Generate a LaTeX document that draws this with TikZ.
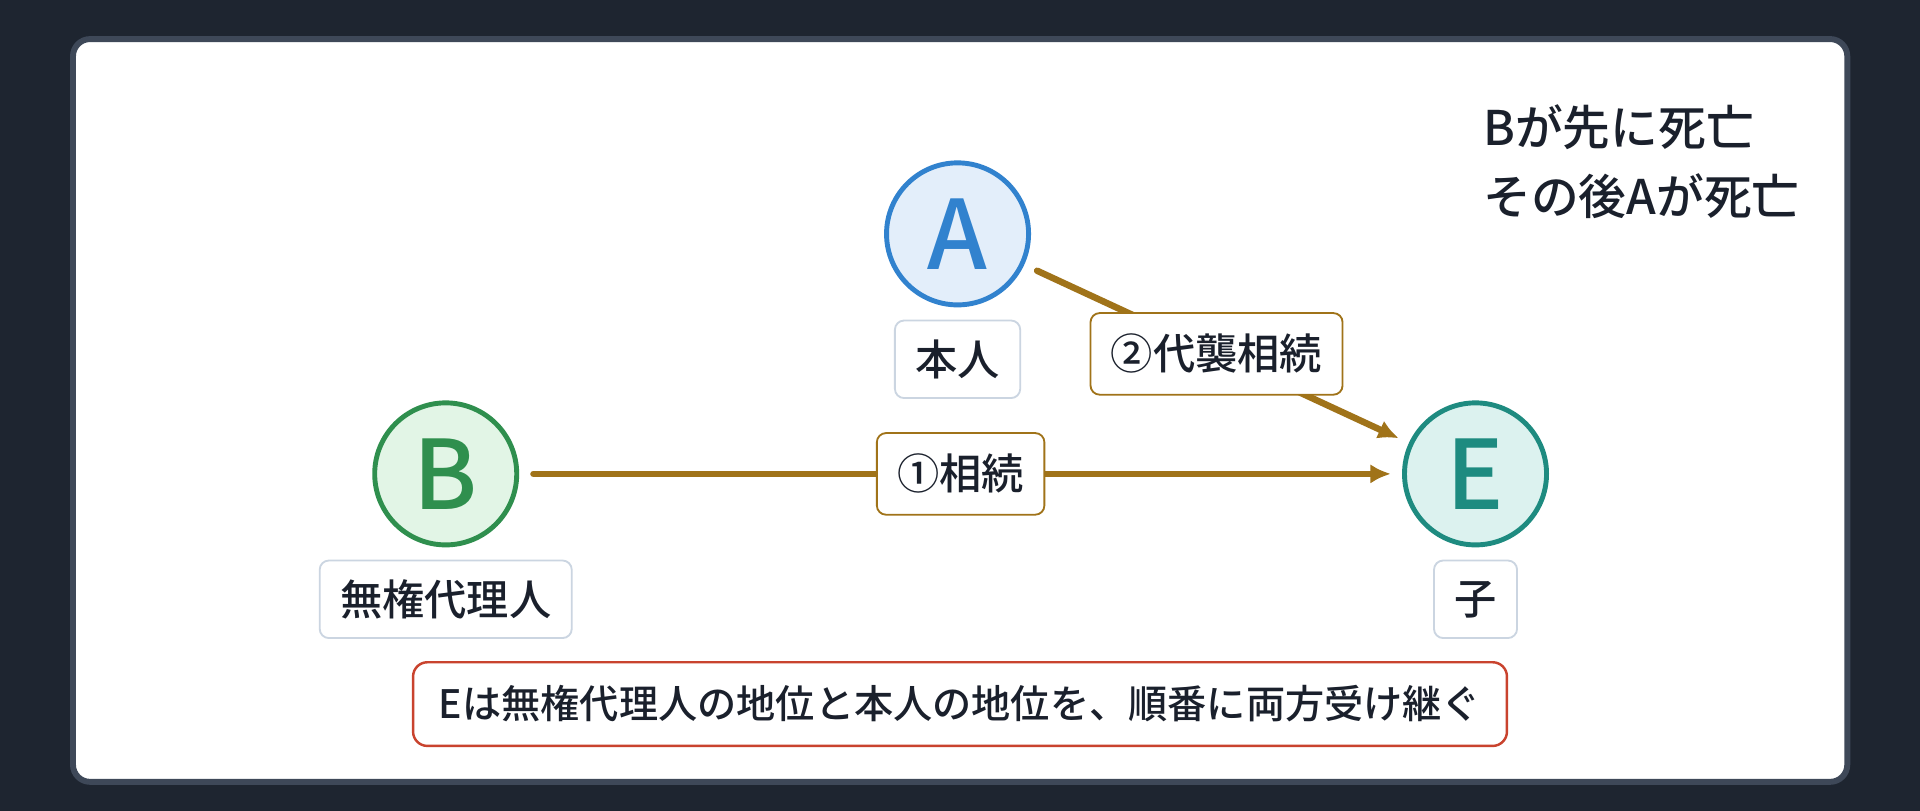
\documentclass[tikz,border=0pt]{standalone}
\usepackage{fontspec}
\setmainfont{Noto Sans CJK JP Medium}
\usetikzlibrary{positioning, calc, arrows.meta}
\tikzset{>={Latex[length=10pt,width=9.5pt]}}

\definecolor{bgdark}{HTML}{1E2530}
\definecolor{panelline}{HTML}{3E4858}
\definecolor{ink}{HTML}{1A202C}
\definecolor{blueA}{HTML}{3182CE}
\definecolor{blueAfill}{HTML}{E3EEFA}
\definecolor{greenB}{HTML}{2F8F4E}
\definecolor{greenBfill}{HTML}{E2F5E6}
\definecolor{tealE}{HTML}{1E8B80}
\definecolor{tealEfill}{HTML}{DCF2EF}
\definecolor{gold}{HTML}{A07319}
\definecolor{tagline}{HTML}{CBD5E1}
\definecolor{notered}{HTML}{C9432E}

\tikzset{
    person/.style = {circle, line width=2.4pt, minimum size=69.6pt, inner sep=0pt,
        font=\fontsize{47}{47}\selectfont},
    tag/.style = {draw=tagline, line width=0.9pt, rounded corners=4.5pt, fill=white,
        text=ink, minimum height=38pt, inner xsep=10pt, inner ysep=0pt,
        font=\fontsize{20.7}{20.7}\selectfont},
    flow/.style = {->, draw=gold, line width=3.2pt, line cap=round,
        shorten <=7pt, shorten >=5.5pt},
    flowlab/.style = {tag, draw=gold, minimum height=40pt},
}

\begin{document}
\begin{tikzpicture}[x=0.6pt, y=-0.6pt]

    \fill[bgdark] (0,0) rectangle (1568,662);
    \draw[panelline, line width=2.9pt, fill=white, rounded corners=8.4pt] (59.6,31.9) rectangle (1508.6,638.5);

    \node[person, draw=blueA, fill=blueAfill, text=blueA] (A) at (782,191) {A};
    \node[person, draw=greenB, fill=greenBfill, text=greenB] (B) at (364,387) {B};
    \node[person, draw=tealE, fill=tealEfill, text=tealE] (E) at (1205,387) {E};

    \node[tag, below=6pt of A] (honnin) {本人};
    \node[tag, below=6pt of B] (muken) {無権代理人};
    \node[tag, below=6pt of E] (ko) {子};

    \draw[flow] (B) -- (E) node[flowlab, midway] (souzoku) {①相続};
    \draw[flow] (A) -- (E) node[flowlab, midway] (daishu) {②代襲相続};

    \node[draw=notered, line width=1.2pt, rounded corners=7pt, fill=white, text=ink,
        minimum width=536pt, minimum height=41pt, font=\fontsize{19.2}{19.2}\selectfont]
        (note) at (784,575) {Eは無権代理人の地位と本人の地位を、順番に両方受け継ぐ};

    \node[anchor=west, align=left, inner sep=0pt, text=ink,
        font=\fontsize{23.4}{34.2}\selectfont] (order) at (1211,132) {Bが先に死亡\\その後Aが死亡};

\end{tikzpicture}
\end{document}
